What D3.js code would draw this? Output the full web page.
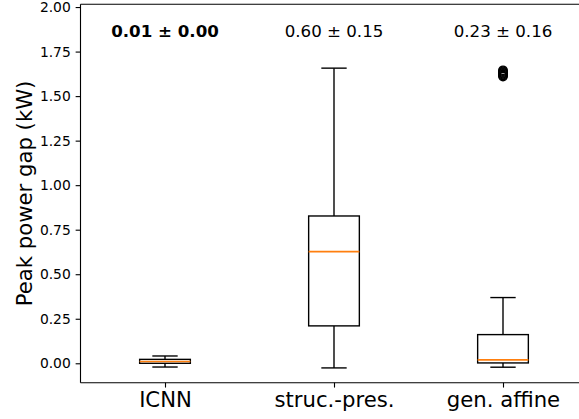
<!DOCTYPE html>
<html><head><meta charset="utf-8">
<script src="https://cdn.jsdelivr.net/npm/d3@7"></script>
<style>body{margin:0;background:#fff}svg{display:block}text{font-family:"DejaVu Sans",sans-serif}</style>
</head><body><svg id="c" width="579" height="419"></svg>
<script>
// ---- data ----
const categories = ["ICNN", "struc.-pres.", "gen. affine"];
const whiskerLow  = [-0.021, -0.026, -0.022];
const q1          = [0.000, 0.210, 0.002];
const median      = [0.010, 0.627, 0.019];
const q3          = [0.022, 0.827, 0.161];
const whiskerHigh = [0.041, 1.657, 0.369];
const fliers      = [[], [], [1.610, 1.615, 1.620, 1.625, 1.630, 1.635, 1.640, 1.645]];
const annotations = ["0.01 ± 0.00", "0.60 ± 0.15", "0.23 ± 0.16"];
const annotationBold = [true, false, false];
const yTicks = [0.00, 0.25, 0.50, 0.75, 1.00, 1.25, 1.50, 1.75, 2.00];
const yLabel = "Peak power gap (kW)";
const annotationY = 1.83;

// ---- layout ----
const svg = d3.select("#c");
const mLeft = 80.5, mRight = 587.5, mTop = 4.2, mBottom = 382.7;
const pt = 1.389;
const x = d3.scaleLinear().domain([0.5, 3.5]).range([mLeft, mRight]);
const y = d3.scaleLinear().domain([-0.109, 2.016]).range([mBottom, mTop]);
const boxW = 0.3, capW = 0.15;
const lw = pt;

const g = svg.append("g");
categories.forEach((c, i) => {
  const p = i + 1;
  g.append("line").attr("x1", x(p)).attr("x2", x(p)).attr("y1", y(q1[i])).attr("y2", y(whiskerLow[i]))
    .attr("stroke", "#000").attr("stroke-width", lw);
  g.append("line").attr("x1", x(p)).attr("x2", x(p)).attr("y1", y(q3[i])).attr("y2", y(whiskerHigh[i]))
    .attr("stroke", "#000").attr("stroke-width", lw);
  [whiskerLow[i], whiskerHigh[i]].forEach(v => {
    g.append("line").attr("x1", x(p - capW / 2)).attr("x2", x(p + capW / 2)).attr("y1", y(v)).attr("y2", y(v))
      .attr("stroke", "#000").attr("stroke-width", lw);
  });
  g.append("rect").attr("x", x(p - boxW / 2)).attr("width", x(p + boxW / 2) - x(p - boxW / 2))
    .attr("y", y(q3[i])).attr("height", y(q1[i]) - y(q3[i]))
    .attr("fill", "none").attr("stroke", "#000").attr("stroke-width", lw);
  g.append("line").attr("x1", x(p - boxW / 2)).attr("x2", x(p + boxW / 2)).attr("y1", y(median[i])).attr("y2", y(median[i]))
    .attr("stroke", "#ff7f0e").attr("stroke-width", 1.6);
  fliers[i].forEach(v => {
    g.append("circle").attr("cx", x(p)).attr("cy", y(v)).attr("r", 3 * pt)
      .attr("fill", "none").attr("stroke", "#000").attr("stroke-width", lw);
  });
  g.append("text").attr("x", x(p)).attr("y", y(annotationY)).attr("text-anchor", "middle")
    .attr("font-size", 12 * pt).attr("font-weight", annotationBold[i] ? "bold" : "normal")
    .attr("fill", "#000").text(annotations[i]);
});

const sp = 0.8 * pt;
svg.append("line").attr("x1", mLeft).attr("x2", mLeft).attr("y1", mTop).attr("y2", mBottom).attr("stroke", "#000").attr("stroke-width", sp);
svg.append("line").attr("x1", mLeft).attr("x2", mRight).attr("y1", mBottom).attr("y2", mBottom).attr("stroke", "#000").attr("stroke-width", sp);
svg.append("line").attr("x1", mLeft).attr("x2", mRight).attr("y1", mTop).attr("y2", mTop).attr("stroke", "#000").attr("stroke-width", sp);
svg.append("line").attr("x1", mRight).attr("x2", mRight).attr("y1", mTop).attr("y2", mBottom).attr("stroke", "#000").attr("stroke-width", sp);

const yAxis = d3.axisLeft(y).tickValues(yTicks).tickFormat(d3.format(".2f")).tickSize(3.5 * pt).tickPadding(3.5 * pt);
const ya = svg.append("g").attr("transform", `translate(${mLeft},0)`).call(yAxis);
ya.select(".domain").remove();
ya.selectAll(".tick line").attr("stroke", "#000").attr("stroke-width", sp);
ya.selectAll(".tick text").attr("font-size", 10 * pt).attr("fill", "#000").attr("font-family", "DejaVu Sans");

const xAxis = d3.axisBottom(x).tickValues([1, 2, 3]).tickFormat((d) => categories[d - 1]).tickSize(3.5 * pt).tickPadding(3.5 * pt);
const xa = svg.append("g").attr("transform", `translate(0,${mBottom})`).call(xAxis);
xa.select(".domain").remove();
xa.selectAll(".tick line").attr("stroke", "#000").attr("stroke-width", sp);
xa.selectAll(".tick text").attr("font-size", 21.2).attr("fill", "#000").attr("font-family", "DejaVu Sans");

svg.append("text").attr("transform", `translate(32,${(mTop + mBottom) / 2}) rotate(-90)`)
  .attr("text-anchor", "middle").attr("font-size", 21.2).attr("fill", "#000").text(yLabel);
</script></body></html>
